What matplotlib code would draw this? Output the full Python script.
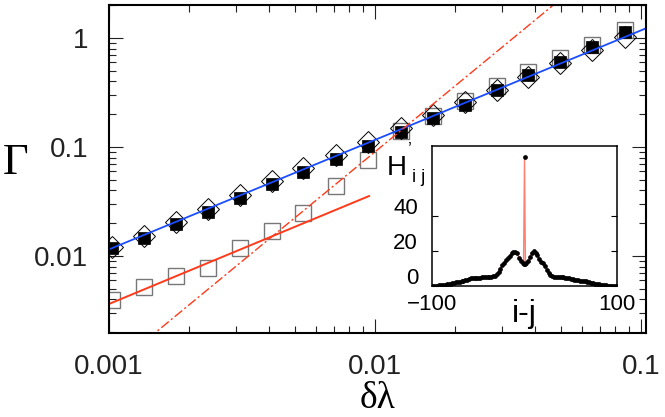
import numpy as np
import matplotlib
matplotlib.use("Agg")
import matplotlib.pyplot as plt
import matplotlib.ticker as ticker
import matplotlib.transforms as mtransforms

plt.rcParams['font.family'] = ['Liberation Sans', 'DejaVu Sans']

#main panel data
dlam = [0.001026, 0.001354, 0.001786, 0.002357, 0.003109, 0.004101, 0.005362, 0.007136,
        0.009412, 0.01253, 0.01652, 0.02180, 0.02875, 0.03761, 0.04960, 0.06543, 0.08706]
gamma_filled = [0.01184, 0.01463, 0.01966, 0.02533, 0.03405, 0.04577, 0.05897, 0.07760,
                0.1021, 0.1373, 0.1845, 0.2428, 0.3334, 0.4577, 0.6024, 0.8270, 1.135]
gamma_diamond = [0.01209, 0.01526, 0.02051, 0.02699, 0.03628, 0.04875, 0.06417, 0.08446,
                 0.1111, 0.1494, 0.1966, 0.2587, 0.3334, 0.4387, 0.5897, 0.7760, 1.021]
gamma_open = [0.003948, 0.005195, 0.006555, 0.007760, 0.01184, 0.01696, 0.02480, 0.04387,
              0.07600, 0.1402, 0.1925, 0.2642, 0.3628, 0.4875, 0.6555, 0.8626, 1.184]

#fit lines (end points)
blue_x = [0.001, 0.1044]
blue_y = [0.0115, 1.227]
red_x = [0.001, 0.0095]
red_y = [0.00363, 0.0355]
dd_x = [0.0014, 0.05]
dd_y = [0.00174, 2.29]

#inset data H'_ij versus i-j
ij = [-100, -98, -96, -94, -92, -90, -88, -86, -84, -82, -80, -78, -76, -74, -72, -70,
      -68, -66, -64, -62, -60, -58, -56, -54, -52, -50, -48, -46, -44, -42, -40, -38,
      -36, -34, -32, -30, -28, -26, -24, -22, -20, -18, -16, -14, -12, -10, -8, -6,
      -4, -2, -1, 0, 1, 2, 4, 6, 8, 10, 12, 14, 16, 18, 20, 22, 24, 26, 28, 30, 32,
      34, 36, 38, 40, 42, 44, 46, 48, 50, 52, 54, 56, 58, 60, 62, 64, 66, 68, 70, 72,
      74, 76, 78, 80, 82, 84, 86, 88, 90, 92, 94, 96, 98, 100]
hij = [0.0, 0.05, 0.1, 0.2, 0.3, 0.4, 0.5, 0.7, 0.9, 1.2, 1.4, 1.6, 1.9, 2.1, 2.3, 2.5,
       2.6, 2.8, 3.2, 3.6, 4.0, 4.4, 4.5, 4.6, 4.5, 4.6, 4.8, 5.0, 5.2, 5.1, 5.0, 5.2,
       5.3, 5.6, 6.0, 7.0, 8.0, 10.0, 12.0, 13.0, 14.8, 16.0, 17.0, 18.8, 19.5, 19.6, 19.0, 16.0,
       14.5, 13.3, 12.8, 73.9, 12.5, 13.0, 14.5, 16.5, 19.0, 19.8, 18.8, 18.0, 15.5, 14.0, 13.0, 11.5, 9.0,
       7.5, 6.3, 5.5, 5.2, 5.0, 5.0, 5.1, 5.0, 4.9, 4.7, 4.5, 4.3, 4.0, 3.8, 3.7, 3.5,
       3.2, 3.0, 2.8, 2.7, 2.6, 2.5, 2.3, 2.0, 1.7, 1.4, 1.1, 0.9, 0.7, 0.5, 0.4, 0.3,
       0.2, 0.2, 0.1, 0.1, 0.05, 0.0]
inset_yticks = [0, 20, 40]

serif = ['Liberation Serif', 'DejaVu Serif']

fig = plt.figure(figsize=(6.65, 4.17), dpi=100)

#%% main panel
ax = fig.add_axes([109/665, 1-333/417, 537/665, 328/417])
ax.set_xscale('log'); ax.set_yscale('log')
ax.plot(dlam, gamma_open, ls='none', marker='s', ms=11.3, mfc='none', mec='#777777', mew=1.0)
ax.plot(dlam, gamma_diamond, ls='none', marker='D', ms=11.5, mfc='none', mec='black', mew=0.7)
ax.plot(dlam, gamma_filled, ls='none', marker='s', ms=8.0, mfc='black', mec='black', mew=0.5)
ax.plot(blue_x, blue_y, color='#1a4dff', lw=1.3)
ax.plot(red_x, red_y, color='#ff3a1a', lw=1.4)
ax.plot(dd_x, dd_y, color='#ff3a1a', lw=1.0, ls=(0, (7, 2, 1.5, 2)))
ax.set_xlim(0.001, 0.1044)
ax.set_ylim(0.001966, 2.008)
ax.set_xticks([0.001, 0.01, 0.1], labels=['0.001', '0.01', '0.1'])
ax.set_yticks([0.01, 0.1, 1], labels=['0.01', '0.1', '1'])
ax.xaxis.set_minor_locator(ticker.LogLocator(subs=np.arange(2, 10)))
ax.yaxis.set_minor_locator(ticker.LogLocator(subs=np.arange(2, 10)))
ax.xaxis.set_minor_formatter(ticker.NullFormatter())
ax.yaxis.set_minor_formatter(ticker.NullFormatter())
ax.tick_params(which='both', direction='in', top=True, right=True, colors='#222222', width=0.8)
ax.tick_params(which='major', length=10, labelsize=20, pad=15)
ax.tick_params(which='minor', length=5)
for s in ax.spines.values():
  s.set_linewidth(1.5)

fig.text(16/665, 1-163/417, 'Γ', fontsize=32, family=serif, ha='center', va='center')
fig.text(378/665, 1-399/417, 'δλ', fontsize=27, family=serif, ha='center', va='center')

#%% inset
ai = fig.add_axes([432/665, 1-286/417, 185/665, 140/417])
ai.plot(ij, hij, color='#ff8070', lw=1.0)
ai.plot(ij, hij, ls='none', marker='o', ms=2.4, color='black')
ai.set_xlim(-100, 100)
ai.set_ylim(0, 80)
ai.set_xticks([-100, 100])
ai.set_yticks(inset_yticks, labels=[])
ai.tick_params(axis='x', length=0, labelsize=16, pad=6)
ai.tick_params(axis='y', direction='in', left=True, right=True, length=4, width=0.8)
#y labels sit a bit above their ticks, as in the reference
shift = mtransforms.ScaledTranslation(-14/100, 7/100, fig.dpi_scale_trans)
for v in inset_yticks:
  ai.text(0, v, str(v), fontsize=16, ha='right', va='center',
          transform=ai.get_yaxis_transform() + shift)
for s in ai.spines.values():
  s.set_linewidth(1.1)
ai.set_xlabel('i-j', fontsize=23, labelpad=-12)

fig.text(397/665, 1-168/417, 'H', fontsize=20, ha='center', va='center')
fig.text(410/665, 1-150/417, '\u2019', fontsize=13, ha='center', va='center')
fig.text(419/665, 1-178/417, 'i j', fontsize=13, ha='center', va='center')

plt.savefig('out.png', dpi=100)
